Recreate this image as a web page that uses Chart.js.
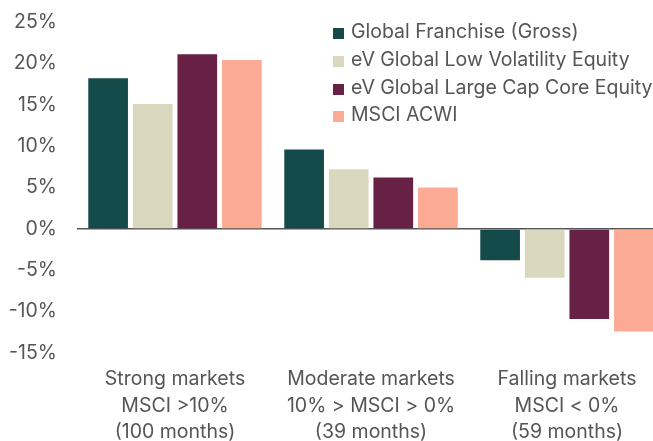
<!DOCTYPE html>
<html>
<head>
<meta charset="utf-8">
<script src="https://cdn.jsdelivr.net/npm/chart.js@4.4.1/dist/chart.umd.min.js"></script>
<style>
  html, body { margin: 0; padding: 0; background: #fff; overflow: hidden; }
  .wrap { position: relative; width: 653px; height: 441px; overflow: hidden; }
  .legend { position: absolute; left: 333px; top: 18px; font-family: Inter, sans-serif; font-size: 19.5px; color: #555; }
  .legend div { height: 27.8px; line-height: 26px; white-space: nowrap; }
  .legend span { display: inline-block; width: 11px; height: 11px; margin-right: 7px; vertical-align: -1px; }
</style>
</head>
<body>
<div class="wrap">
  <canvas id="chart" width="665" height="441"></canvas>
  <div class="legend" id="legend"></div>
</div>
<script>
const categories = [
  ['Strong markets', 'MSCI >10%', '(100 months)'],
  ['Moderate markets', '10% > MSCI > 0%', '(39 months)'],
  ['Falling markets', 'MSCI < 0%', '(59 months)'],
];
const seriesNames = [
  'Global Franchise (Gross)',
  'eV Global Low Volatility Equity',
  'eV Global Large Cap Core Equity',
  'MSCI ACWI',
];
const globalFranchise = [18.2, 9.6, -3.8];
const lowVolatility = [15.1, 7.2, -5.9];
const largeCapCore = [21.1, 6.2, -10.9];
const msciAcwi = [20.4, 5.0, -12.4];
const colors = ['#154a4a', '#d9d8be', '#662144', '#fbab94'];
const yTicks = [25, 20, 15, 10, 5, 0, -5, -10, -15];

const font = { family: 'Inter, sans-serif', size: 19.5 };
const values = [globalFranchise, lowVolatility, largeCapCore, msciAcwi];

new Chart(document.getElementById('chart'), {
  type: 'bar',
  data: {
    labels: categories,
    datasets: values.map((v, i) => ({
      label: seriesNames[i],
      data: v,
      backgroundColor: colors[i],
      categoryPercentage: 0.91,
      barPercentage: 0.89,
    })),
  },
  options: {
    responsive: false,
    animation: false,
    layout: { padding: { top: 22, right: 0, bottom: 0, left: 0 } },
    plugins: { legend: { display: false }, tooltip: { enabled: false } },
    scales: {
      x: {
        grid: { display: false },
        border: { display: false },
        afterFit: (s) => { s.height = 88; s.paddingLeft = 0; s.paddingRight = 0; },
        ticks: { color: '#555', font: { ...font, lineHeight: 1.36 }, padding: 5, maxRotation: 0, autoSkip: false },
      },
      y: {
        min: -15,
        max: 25,
        afterFit: (s) => { s.width = 77; s.paddingTop = 0; s.paddingBottom = 0; },
        afterBuildTicks: (s) => { s.ticks = yTicks.map(v => ({ value: v })); },
        grid: {
          drawTicks: false,
          color: (c) => c.tick && c.tick.value === 0 ? '#555' : 'rgba(0,0,0,0)',
          lineWidth: (c) => c.tick && c.tick.value === 0 ? 1.5 : 0,
        },
        border: { display: false },
        ticks: { color: '#555', font, padding: 20, callback: (v) => v + '%' },
      },
    },
  },
});

document.getElementById('legend').innerHTML = seriesNames
  .map((n, i) => `<div><span style="background:${colors[i]}"></span>${n}</div>`)
  .join('');
</script>
</body>
</html>
